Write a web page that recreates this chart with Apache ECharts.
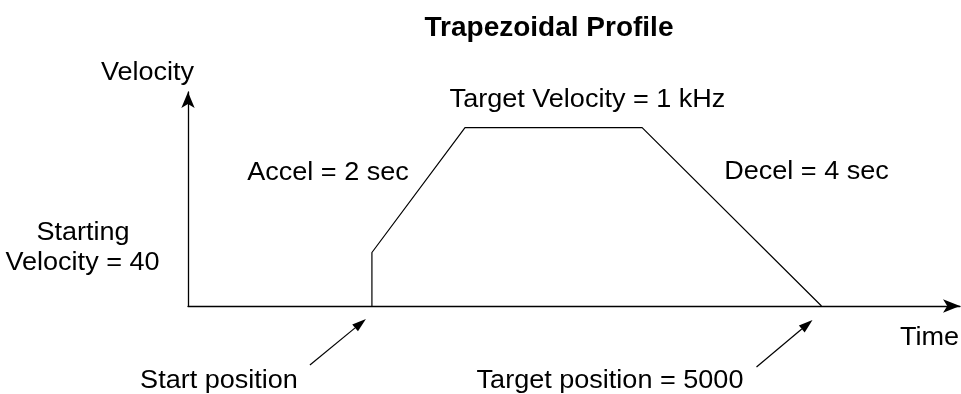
<!DOCTYPE html>
<html>
<head>
<meta charset="utf-8">
<script src="https://cdn.jsdelivr.net/npm/echarts@6/dist/echarts.min.js"></script>
<style>
  html, body { margin: 0; padding: 0; background: #fff; }
  #chart { width: 961px; height: 394px; }
</style>
</head>
<body>
<div id="chart"></div>
<script>
// profile breakpoints (time in sec, velocity in Hz as drawn)
var times = [4.05, 4.05, 6.1, 10, 13.95];
var velocities = [0, 300, 1000, 1000, 0];
var xMax = 17;
var yMax = 1200;

var FONT = '"Liberation Sans", Arial, Helvetica, sans-serif';

var chart = echarts.init(document.getElementById('chart'));

var pts = times.map(function (t, i) { return [t, velocities[i]]; });

chart.setOption({
  backgroundColor: '#fff',
  animation: false,
  title: {
    text: 'Trapezoidal Profile',
    left: 544,
    top: 9,
    textAlign: 'center',
    textStyle: { fontFamily: FONT, fontSize: 28, fontWeight: 'bold', color: '#000' }
  },
  grid: { left: 188, right: 1, top: 92, bottom: 88 },
  xAxis: {
    type: 'value', min: 0, max: xMax,
    axisLine: { show: true, symbol: ['none', 'arrow'], symbolSize: [10, 17],
      lineStyle: { color: '#000', width: 1.3 } },
    axisTick: { show: false }, axisLabel: { show: false }, splitLine: { show: false }
  },
  yAxis: {
    type: 'value', min: 0, max: yMax,
    axisLine: { show: true, symbol: ['none', 'arrow'], symbolSize: [10, 16],
      lineStyle: { color: '#000', width: 1.3 } },
    axisTick: { show: false }, axisLabel: { show: false }, splitLine: { show: false }
  },
  series: [{
    type: 'line',
    data: pts,
    symbol: 'none',
    clip: false,
    lineStyle: { color: '#000', width: 1.2 }
  }]
});

// text labels + pointer arrows
function txt(s, x, y) {
  return { type: 'text', x: x, y: y, scaleX: 1.04, silent: true,
    style: { text: s, fill: '#000', font: '26px ' + FONT, textAlign: 'center', textVerticalAlign: 'middle' } };
}

function arrow(tail, tip) {
  var dx = tip[0] - tail[0], dy = tip[1] - tail[1];
  var len = Math.sqrt(dx * dx + dy * dy);
  var ux = dx / len, uy = dy / len;
  var hl = 14, hw = 4.5;
  var bx = tip[0] - ux * hl, by = tip[1] - uy * hl;
  return [
    { type: 'line', silent: true,
      shape: { x1: tail[0], y1: tail[1], x2: bx, y2: by },
      style: { stroke: '#000', lineWidth: 1.2 } },
    { type: 'polygon', silent: true,
      shape: { points: [tip, [bx - uy * hw, by + ux * hw], [bx + uy * hw, by - ux * hw]] },
      style: { fill: '#000' } }
  ];
}

var pStart = chart.convertToPixel({ gridIndex: 0 }, [times[0], 0]);
var pEnd = chart.convertToPixel({ gridIndex: 0 }, [times[times.length - 1], 0]);

var els = [
  txt('Velocity', 147.5, 73),
  txt('Target Velocity = 1 kHz', 587.5, 100),
  txt('Accel = 2 sec', 328, 173),
  txt('Decel = 4 sec', 806.5, 172),
  txt('Starting', 83, 233),
  txt('Velocity = 40', 82.5, 263),
  txt('Time', 929.5, 338),
  txt('Start position', 219, 381),
  txt('Target position = 5000', 610, 381)
];
els = els.concat(arrow([pStart[0] - 62, pStart[1] + 59], [pStart[0] - 6, pStart[1] + 13]));
els = els.concat(arrow([pEnd[0] - 65, pEnd[1] + 61], [pEnd[0] - 9, pEnd[1] + 14]));

chart.setOption({ graphic: { elements: els } });
</script>
</body>
</html>
